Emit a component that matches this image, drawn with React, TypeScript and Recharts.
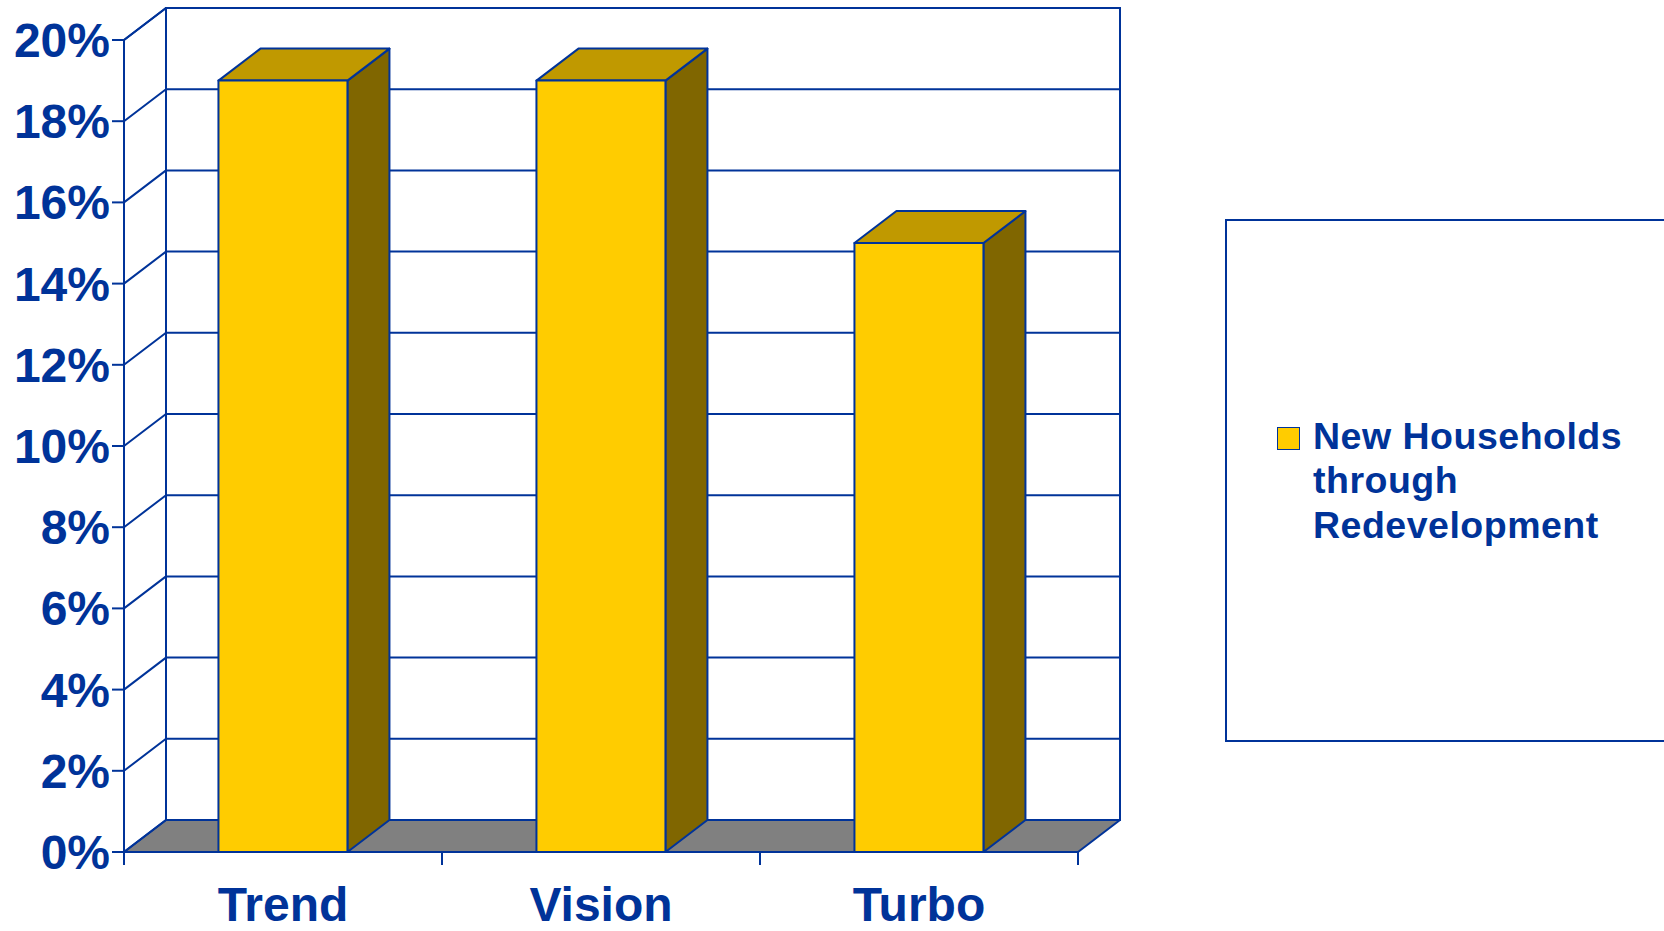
import React from 'react';
import { BarChart, Bar, XAxis, YAxis, CartesianGrid, Legend } from 'recharts';

const categories = ['Trend', 'Vision', 'Turbo'];
const householdShares = [19, 19, 15];
const yTicks = [0, 2, 4, 6, 8, 10, 12, 14, 16, 18, 20];
const seriesName = 'New Households through Redevelopment';

const data = categories.map((c, i) => ({ name: c, value: householdShares[i] }));

const CHART_W = 1664;
const CHART_H = 931;
const MARGIN = { top: 40, right: 586, bottom: 0, left: 0 };
const Y_AXIS_W = 124;
const BLUE = '#003399';
const FONT = '"Liberation Sans", Arial, Helvetica, sans-serif';
const DX = 42;
const DY = -32;
const SW = 2;

const GridLine = (p: any) => {
  const { x1, y1, x2, index, x, y, width, height } = p;
  const bottom = y + height;
  const right = x + width;
  const ls = { stroke: BLUE, strokeWidth: SW, strokeLinecap: 'round' as const };
  return (
    <g key={p.key}>
      {index === 0 && (
        <g>
          <polygon
            points={`${x},${bottom} ${right},${bottom} ${right + DX},${bottom + DY} ${x + DX},${bottom + DY}`}
            fill="#808080"
            stroke={BLUE}
            strokeWidth={SW}
            strokeLinejoin="round"
          />
          <line x1={x + DX} y1={y + DY} x2={x + DX} y2={bottom + DY} {...ls} />
          <line x1={right + DX} y1={y + DY} x2={right + DX} y2={bottom + DY} {...ls} />
          <line x1={x + DX} y1={y + DY} x2={right + DX} y2={y + DY} {...ls} />
          <line x1={x} y1={y} x2={x + DX} y2={y + DY} {...ls} />
        </g>
      )}
      <line x1={x1 + DX} y1={y1 + DY} x2={x2 + DX} y2={y1 + DY} {...ls} />
      <line x1={x1} y1={y1} x2={x1 + DX} y2={y1 + DY} {...ls} />
    </g>
  );
};

const Bar3D = (p: any) => {
  const { x, y, width, height } = p;
  if (!(height > 0)) return null;
  const common = { stroke: BLUE, strokeWidth: SW, strokeLinejoin: 'round' as const };
  return (
    <g>
      <polygon
        points={`${x + width},${y} ${x + width + DX},${y + DY} ${x + width + DX},${y + height + DY} ${x + width},${y + height}`}
        fill="#806600"
        {...common}
      />
      <polygon
        points={`${x},${y} ${x + width},${y} ${x + width + DX},${y + DY} ${x + DX},${y + DY}`}
        fill="#C09900"
        {...common}
      />
      <rect x={x} y={y} width={width} height={height} fill="#FFCC00" {...common} />
    </g>
  );
};

const CategoryTick = (p: any) => {
  const { x, y, payload, index, visibleTicksCount } = p;
  const plotW =
    typeof p.width === 'number' && p.width > 0
      ? p.width
      : CHART_W - MARGIN.left - MARGIN.right - Y_AXIS_W;
  const count = visibleTicksCount || categories.length;
  const band = plotW / count;
  const ls = { stroke: BLUE, strokeWidth: SW };
  return (
    <g>
      <line x1={x - band / 2} y1={y - 13} x2={x - band / 2} y2={y} {...ls} />
      {index === count - 1 && <line x1={x + band / 2} y1={y - 13} x2={x + band / 2} y2={y} {...ls} />}
      <text
        x={x}
        y={y + 56}
        textAnchor="middle"
        fill={BLUE}
        fontSize={48}
        fontWeight="bold"
        fontFamily={FONT}
      >
        {payload.value}
      </text>
    </g>
  );
};

const LegendBox = (props: any) => {
  const item = (props.payload && props.payload[0]) || { value: seriesName, color: '#FFCC00' };
  return (
    <div
      style={{
        boxSizing: 'border-box',
        width: 439,
        height: 523,
        borderTop: `2px solid ${BLUE}`,
        borderLeft: `2px solid ${BLUE}`,
        borderBottom: `2px solid ${BLUE}`,
        background: '#fff',
        display: 'flex',
        alignItems: 'center',
      }}
    >
      <div style={{ display: 'flex', alignItems: 'flex-start', marginLeft: 50 }}>
        <span
          style={{
            display: 'block',
            width: 23,
            height: 23,
            boxSizing: 'border-box',
            background: item.color || '#FFCC00',
            border: `1.5px solid ${BLUE}`,
            marginTop: 13,
            flex: 'none',
          }}
        />
        <span
          style={{
            display: 'block',
            marginLeft: 13,
            width: 330,
            fontFamily: FONT,
            fontWeight: 'bold',
            fontSize: 37.5,
            letterSpacing: 0.5,
            color: BLUE,
            lineHeight: '44.5px',
            textAlign: 'left',
          }}
        >
          {item.value}
        </span>
      </div>
    </div>
  );
};

export default function App() {
  return (
    <div style={{ position: 'absolute', left: 0, top: 0, width: CHART_W, height: CHART_H, overflow: 'hidden', background: '#fff' }}>
      <BarChart width={CHART_W} height={CHART_H} data={data} margin={MARGIN} barCategoryGap="29.7%">
        <CartesianGrid horizontal={GridLine as any} vertical={false} />
        <XAxis
          dataKey="name"
          interval={0}
          height={79}
          tickSize={13}
          tickMargin={0}
          tickLine={false}
          axisLine={{ stroke: BLUE, strokeWidth: SW }}
          tick={<CategoryTick />}
        />
        <YAxis
          width={Y_AXIS_W}
          domain={[0, 20]}
          ticks={yTicks}
          interval={0}
          tickFormatter={(v: number) => `${v}%`}
          axisLine={{ stroke: BLUE, strokeWidth: SW }}
          tickLine={{ stroke: BLUE, strokeWidth: SW }}
          tickSize={12}
          tickMargin={2}
          tick={{ fill: BLUE, fontSize: 48, fontWeight: 'bold', fontFamily: FONT }}
        />
        <Legend
          layout="vertical"
          align="center"
          verticalAlign="middle"
          content={<LegendBox />}
          wrapperStyle={{ left: 1225, top: 219, width: 439, height: 523 }}
        />
        <Bar dataKey="value" name={seriesName} fill="#FFCC00" isAnimationActive={false} shape={<Bar3D />} />
      </BarChart>
    </div>
  );
}
